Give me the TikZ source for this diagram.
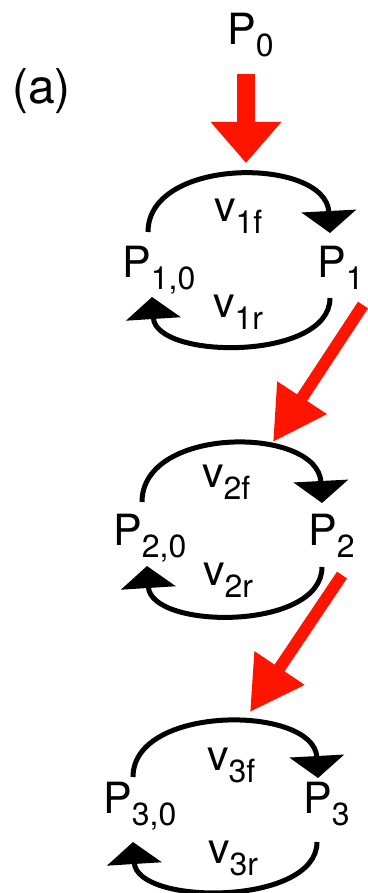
\documentclass[tikz,border=0pt]{standalone}
\usepackage{fontspec}
\setmainfont{TeX Gyre Heros}
\usepackage{tikz}
\usetikzlibrary{arrows.meta}
\definecolor{fluxred}{RGB}{255,20,0}
\newcommand{\lowsub}[1]{\raisebox{-12pt}{\fontsize{32}{32}\selectfont #1}}

\begin{document}
\begin{tikzpicture}[x=1pt, y=-1pt,
    every node/.style={inner sep=0pt, anchor=base west, font=\fontsize{43}{43}\selectfont},
    cyc/.style={line width=5pt, -{Triangle[length=22pt, width=54pt]}},
    flux/.style={fluxred, line width=#1},
    flux/.default=12pt
  ]
  \useasboundingbox (0,0) rectangle (367,893);

  \node[font=\fontsize{48}{48}\selectfont] (lab) at (12,104) {(a)};
  \node (p0) at (227,45) {P\lowsub{0}};

  % first step
  \node (p10) at (122,277) {P\lowsub{1,0}};
  \node (p1)  at (317,277) {P\lowsub{1}};
  \node (v1f) at (214,222) {v\lowsub{1f}};
  \node (v1r) at (213,317) {v\lowsub{1r}};
  \draw[cyc] ([shift={(26,-45)}]p10.base west) .. controls +(0,-76) and +(-4,-76) .. ([shift={(13,-44)}]p1.base west);
  \draw[cyc] ([shift={(13,21)}]p1.base west) .. controls +(0,63) and +(4,63) .. ([shift={(30,20)}]p10.base west);

  % second step
  \node (p20) at (113,545) {P\lowsub{2,0}};
  \node (p2)  at (308,545) {P\lowsub{2}};
  \node (v2f) at (202,487) {v\lowsub{2f}};
  \node (v2r) at (203,585) {v\lowsub{2r}};
  \draw[cyc] ([shift={(29,-43)}]p20.base west) .. controls +(0,-77) and +(-4,-77) .. ([shift={(14,-42)}]p2.base west);
  \draw[cyc] ([shift={(14,22)}]p2.base west) .. controls +(0,64) and +(4,64) .. ([shift={(34,21)}]p20.base west);

  % third step
  \node (p30) at (103,813) {P\lowsub{3,0}};
  \node (p3)  at (303,813) {P\lowsub{3}};
  \node (v3f) at (207,770) {v\lowsub{3f}};
  \node (v3r) at (208,863) {v\lowsub{3r}};
  \draw[cyc] ([shift={(30,-36)}]p30.base west) .. controls +(0,-73) and +(-4,-73) .. ([shift={(15,-35)}]p3.base west);
  \draw[cyc] ([shift={(14,29)}]p3.base west) .. controls +(0,64) and +(4,64) .. ([shift={(30,29)}]p30.base west);

  % red arrows
  \coordinate (in1)  at (246,74);
  \coordinate (hit1) at (246,163);
  \coordinate (out1) at (363,305);
  \coordinate (hit2) at (273,442);
  \coordinate (out2) at (342,575);
  \coordinate (hit3) at (250,712);
  \draw[flux=18pt, -{Triangle[length=41pt, width=68pt]}] (in1) -- (hit1);
  \draw[flux, -{Triangle[length=53pt, width=56pt]}] (out1) -- (hit2);
  \draw[flux, -{Triangle[length=53pt, width=57pt]}] (out2) -- (hit3);
\end{tikzpicture}
\end{document}
